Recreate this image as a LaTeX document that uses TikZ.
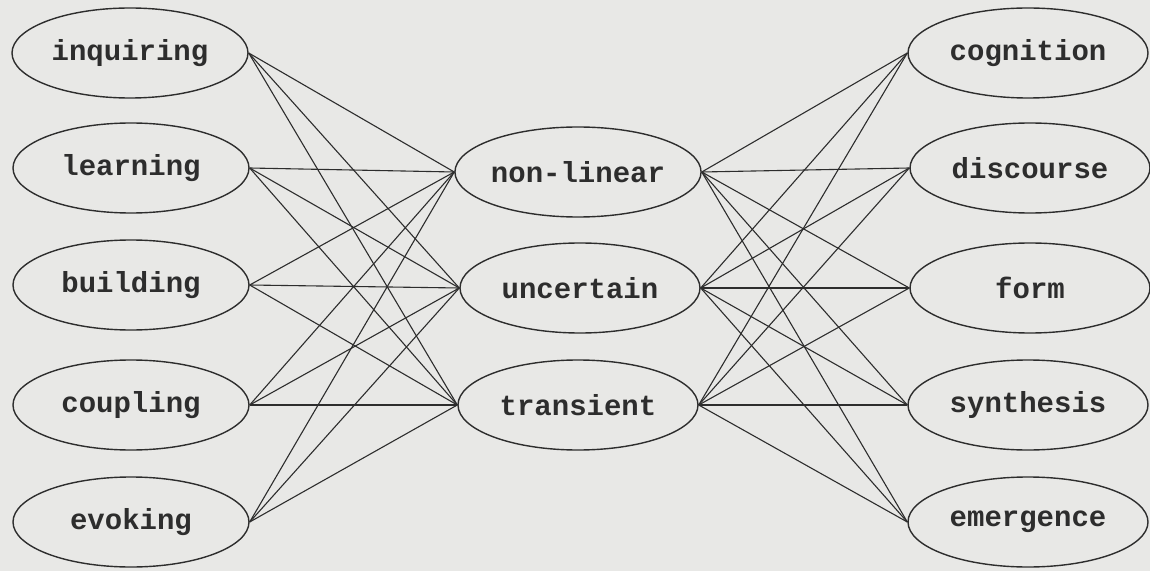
\documentclass[tikz,border=0pt]{standalone}
\usepackage{fontspec}
\setmonofont{Liberation Mono}
\usetikzlibrary{shapes.geometric}
\definecolor{bg}{RGB}{232,232,230}
\definecolor{ink}{RGB}{45,45,45}
\tikzset{
  term/.style={ellipse, draw=ink, line width=1.4pt, minimum width=236pt, minimum height=90pt, inner sep=0pt, font=\ttfamily\bfseries\fontsize{29}{29}\selectfont, text=ink},
  link/.style={draw=ink, line width=1.1pt}
}
\begin{document}
\begin{tikzpicture}[x=1pt,y=1pt]
\fill[bg] (0,0) rectangle (1150,571);
\useasboundingbox (0,0) rectangle (1150,571);
% left column
\node[term] (inq) at (130,518) {inquiring};
\node[term] (lea) at (131,403) {learning};
\node[term] (bui) at (131,286) {building};
\node[term] (cou) at (131,166) {coupling};
\node[term] (evo) at (131,49) {evoking};
% middle column
\node[term, minimum width=240pt] (non) at (578,399) {non-linear};
\node[term, minimum width=240pt] (unc) at (580,283) {uncertain};
\node[term, minimum width=240pt] (tra) at (578,166) {transient};
% right column
\node[term, minimum width=240pt] (cog) at (1028,518) {cognition};
\node[term, minimum width=240pt] (dis) at (1030,403) {discourse};
\node[term, minimum width=240pt] (for) at (1030,283) {form};
\node[term, minimum width=240pt] (syn) at (1028,166) {synthesis};
\node[term, minimum width=240pt] (eme) at (1028,49) {emergence};
% connectors
\foreach \a in {inq,lea,bui,cou,evo}
  \foreach \b in {non,unc,tra}
    \draw[link] (\a.east) -- (\b.west);
\foreach \a in {non,unc,tra}
  \foreach \b in {cog,dis,for,syn,eme}
    \draw[link] (\a.east) -- (\b.west);
\end{tikzpicture}
\end{document}
